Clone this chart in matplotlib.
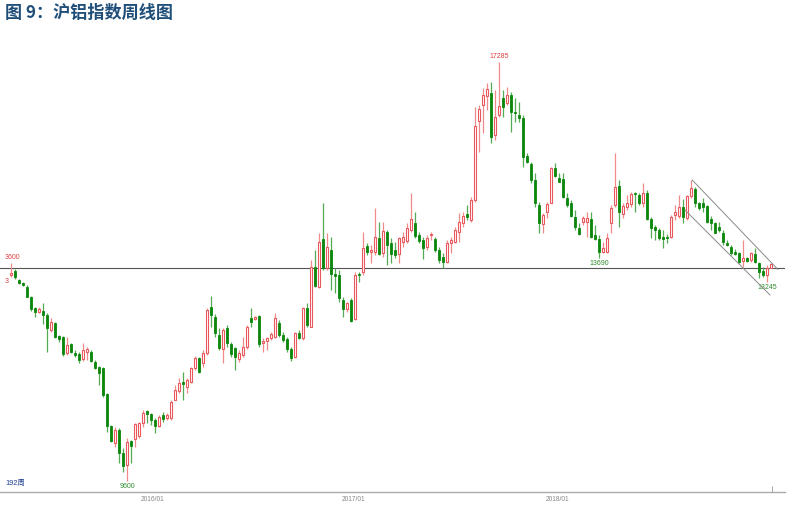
import matplotlib
matplotlib.use("Agg")
import matplotlib.pyplot as plt
import numpy as np

# ---- data: weekly OHLC of SHFE aluminium index ----
opens = [13376,13455,13284,13223,13162,12966,12765,12698,12722,12643,
         12368,12502,12258,12233,11952,12105,11952,11928,11830,11970,
         11970,11787,11683,11665,11194,10608,10302,10535,10107,9893,
         10333,10363,10425,10669,10883,10822,10718,10608,10810,10748,
         10748,11085,11255,11408,11329,11408,11665,11848,11756,11939,
         12782,12611,12275,12012,12410,12110,12031,11829,11909,12049,
         12593,12562,12623,12122,12171,12214,12232,12501,12275,12196,
         12012,11878,12318,12214,12764,12428,13528,13161,14029,13497,
         13833,13393,13375,12917,12746,12917,12562,13393,13436,13907,
         13797,13803,14047,13784,14169,13968,13834,13761,13987,14005,
         14201,14323,14109,14017,13895,14109,14030,13834,13712,13620,
         13956,13987,14170,14323,14494,14384,14751,16205,16492,16657,
         16706,15942,16309,16614,16522,16675,16370,16309,16248,15557,
         15410,15117,14659,14311,14537,14702,15331,15160,15129,14793,
         14702,14445,14231,14354,14353,14402,14109,14029,13803,13803,
         14323,14659,15007,14494,14628,14677,14885,14842,14689,14885,
         14396,14249,14200,14066,14078,14078,14475,14457,14628,14414,
         14824,14946,14689,14689,14640,14396,14335,14249,14151,13968,
         13895,13803,13785,13638,13681,13650,13754,13602,13455,13376,
         13510]
highs = [13600,13486,13308,13247,13192,12991,12783,12783,12869,12673,
         12581,12520,12276,12258,12233,12123,12001,11970,12135,12050,
         12001,11818,11708,11696,11207,10626,10596,10565,10198,10382,
         10351,10669,10687,10901,10901,10840,10748,10810,10871,10840,
         11085,11359,11482,11604,11482,11696,11891,11879,12000,12764,
         12990,12660,12397,12397,12458,12153,12061,12000,12245,12458,
         12764,12623,12642,12214,12245,12336,12672,12550,12336,12245,
         12061,12336,12367,12795,12856,13650,13833,14139,14689,14139,
         14078,13497,13467,12978,12886,12947,13436,13436,14169,13955,
         13925,14597,14353,14353,14200,14048,13987,14078,14170,14323,
         14873,14537,14170,14078,14109,14170,14078,13895,13773,14017,
         14078,14262,14506,14537,14659,14812,16461,16492,16797,16889,
         16920,16767,17285,16767,16828,16736,16614,16553,16309,15606,
         15453,15239,14720,14506,14720,15362,15423,15239,15239,14873,
         14751,14567,14323,14460,14536,14536,14292,14109,13987,14139,
         14659,15606,15117,14689,14842,14903,14903,14872,15068,14934,
         14445,14292,14231,14200,14127,14475,14659,14842,14762,14842,
         15117,14995,14720,14781,14659,14457,14353,14353,14200,14017,
         13925,13846,13803,14017,13712,13803,13864,13620,13528,13559,
         13602]
lows = [13345,13296,13205,13174,12966,12722,12600,12673,12478,11970,
        12337,12215,12154,11891,11909,11940,11867,11757,11806,11818,
        11787,11647,11359,11146,10504,10321,10229,9924,9771,9600,
        9924,10229,10382,10596,10657,10626,10474,10596,10687,10718,
        10718,11085,11207,11085,11207,11390,11634,11586,11695,11909,
        12428,12245,12000,11756,12061,11878,11634,11786,11878,12012,
        12428,12550,12061,11970,12000,12184,12214,12245,12153,11970,
        11805,11848,12196,12184,12428,12428,13161,13131,13467,13467,
        13100,13039,12886,12611,12703,12520,12550,13253,13375,13742,
        13589,13742,13742,13711,13558,13590,13681,13590,13895,13956,
        14170,14048,13956,13663,13834,14017,13804,13590,13498,13590,
        13773,13956,13987,14262,14384,14353,14720,15637,15973,16400,
        15789,15850,16278,16278,16492,16003,16186,16186,15362,15423,
        15056,14628,14140,14140,14415,14689,15178,15087,14781,14628,
        14445,14201,14109,14300,14078,14047,14017,13690,13773,13773,
        14139,14628,14261,14414,14567,14628,14536,14659,14628,14384,
        14047,14017,14017,13864,13968,14047,14384,14414,14323,14384,
        14781,14628,14567,14536,14323,14200,14139,14170,13925,13907,
        13742,13742,13589,13528,13620,13620,13589,13314,13333,13245,
        13498]
closes = [13418,13333,13235,13199,12979,12746,12698,12746,12649,12398,
          12520,12233,12197,11928,12093,11970,11903,11818,12001,12013,
          11806,11665,11586,11176,10608,10339,10535,10119,9875,10321,
          10241,10644,10657,10840,10822,10718,10614,10779,10730,10810,
          11054,11268,11402,11372,11451,11665,11848,11604,11939,12733,
          12642,12306,12031,12367,12122,11927,11878,11951,12049,12416,
          12520,12611,12110,12171,12214,12293,12581,12275,12184,12012,
          11848,12318,12214,12764,12458,13528,13173,13986,13497,13894,
          13393,13357,12947,12746,12856,12532,13375,13369,13864,13803,
          13833,14078,13760,14188,13925,13761,13742,14048,14078,14231,
          14396,14091,14005,13865,14048,14127,13834,13651,13620,13968,
          14017,14201,14353,14457,14445,14751,16107,16412,16675,16779,
          15912,16278,16474,16449,16675,16370,16351,16248,15545,15453,
          15117,14689,14323,14476,14677,15331,15190,15087,14799,14659,
          14457,14262,14127,14414,14414,14078,14029,13803,13864,14060,
          14598,14995,14537,14640,14689,14860,14860,14689,14885,14396,
          14231,14200,14060,14029,14060,14433,14536,14628,14433,14824,
          14964,14689,14597,14628,14353,14335,14151,14200,13987,13925,
          13773,13760,13620,13681,13638,13773,13620,13437,13376,13498,
          13577]

ref_price = 13504                      # horizontal reference line
upper_channel = ([170.3, 191.7], [15117, 13479])
lower_channel = ([168.5, 189.75], [14567, 13009])
date_ticks = [35.5, 85.6, 136.7]
date_labels = ["2016/01", "2017/01", "2018/01"]
marks = [(122, "17285", "high"), (29, "9600", "low"),
         (147, "13690", "low"), (189, "13245", "low")]

plt.rcParams['font.family'] = ['Liberation Sans', 'Noto Sans CJK SC', 'DejaVu Sans']

W, H = 796, 512
fig = plt.figure(figsize=(W / 100, H / 100), dpi=100)
ax = fig.add_axes([0, (H - 492) / H, 785 / W, (492 - 30) / H])

o = np.array(opens, float); h = np.array(highs, float)
l = np.array(lows, float); c = np.array(closes, float)
x = np.arange(len(o))
up = c >= o

RED_EDGE = '#e8585c'
RED_WICK = '#f08a8a'
GRN_BODY = '#0c870c'
GRN_WICK = '#55aa55'

ax.vlines(x[up], l[up], h[up], color=RED_WICK, lw=0.9, zorder=2)
ax.vlines(x[~up], l[~up], h[~up], color=GRN_WICK, lw=0.9, zorder=2)
bw = 0.72
bot = np.minimum(o, c); ht = np.maximum(np.abs(c - o), 10)
ax.bar(x[up], ht[up], bottom=bot[up], width=bw, facecolor='white',
       edgecolor=RED_EDGE, linewidth=0.8, zorder=3)
ax.bar(x[~up], ht[~up], bottom=bot[~up], width=bw, facecolor=GRN_BODY,
       edgecolor=GRN_BODY, linewidth=0.6, zorder=3)

ax.axhline(ref_price, color='#555555', lw=0.8, zorder=1)
ax.plot(*upper_channel, color='#8a8a8a', lw=0.7, zorder=4)
ax.plot(*lower_channel, color='#8a8a8a', lw=0.7, zorder=4)

for i, txt, kind in marks:
    if kind == "high":
        ax.text(i, h[i] + 40, txt, ha='center', va='bottom', fontsize=5,
                color='#e04040')
    else:
        ax.text(i, l[i] - 40, txt, ha='center', va='top', fontsize=5,
                color='#2e8b2e')
ax.text(-1.5, h[0] + 40, "3600", ha='left', va='bottom', fontsize=5, color='#e04040')
ax.text(-1.0, 13250, "3", ha='center', va='center', fontsize=5, color='#e04040')
ax.text(-1.3, 9490, "192周", ha='left', va='bottom', fontsize=5.3,
        color='#1f3f8f', family=['Liberation Sans', 'Noto Sans CJK SC'])

ax.set_xlim(-2.75, 193.5)
ax.set_ylim(9398, 17866)
ax.set_yticks([])
ax.set_xticks(date_ticks)
ax.set_xticklabels(date_labels, fontsize=4.8, color='#888888')
ax.tick_params(axis='x', length=0, pad=3)
ax.set_xticks([190.25], minor=True)
ax.tick_params(axis='x', which='minor', direction='in', length=4, color='#999999')
for s in ['top', 'left', 'right']:
    ax.spines[s].set_visible(False)
ax.spines['bottom'].set_color('#aaaaaa')
ax.spines['bottom'].set_linewidth(1.0)
ax.patch.set_alpha(0)

fig.text(5 / W, 1 - 12.5 / H, "图 9：沪铝指数周线图", fontsize=12.3, fontweight='bold',
         color='#1f4e79', va='center', ha='left',
         family=['Noto Sans CJK SC', 'DejaVu Sans'])

fig.savefig("out.png", dpi=100, facecolor='white')
